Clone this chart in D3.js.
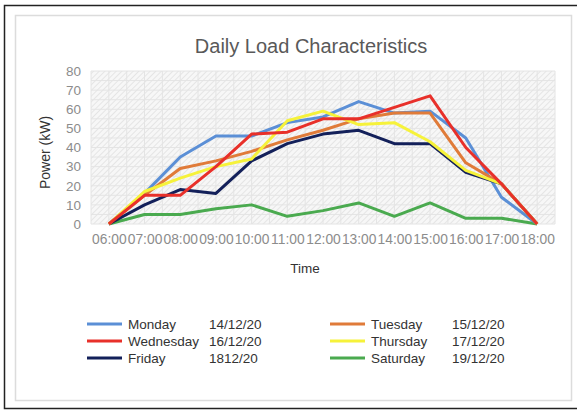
<!DOCTYPE html>
<html>
<head>
<meta charset="utf-8">
<script src="https://cdn.jsdelivr.net/npm/d3@7"></script>
<style>
  body { margin: 0; background: #fff; }
  svg { display: block; font-family: "Liberation Sans", Arial, sans-serif; }
</style>
</head>
<body>
<div id="chart"></div>
<script>
// time categories
const hours = ["06:00","07:00","08:00","09:00","10:00","11:00","12:00","13:00","14:00","15:00","16:00","17:00","18:00"];
const yTicks = [0, 10, 20, 30, 40, 50, 60, 70, 80];

// power per day (kW)
const monday    = [0, 16, 35, 46, 46, 53, 56, 64, 58, 59, 45, 14, 0];
const tuesday   = [0, 15, 29, 33, 38, 44, 49, 55, 58, 58, 32, 21, 0];
const wednesday = [0, 15, 15, 30, 47, 48, 55, 55, 61, 67, 40, 21, 0];
const thursday  = [0, 17, 24, 30, 34, 54, 59, 52, 53, 43, 28, 21, 0];
const friday    = [0, 10, 18, 16, 33, 42, 47, 49, 42, 42, 27, 21, 0];
const saturday  = [0, 5, 5, 8, 10, 4, 7, 11, 4, 11, 3, 3, 0];

const series = [
  {name: "Monday",    date: "14/12/20", color: "#5b8fd6", values: monday},
  {name: "Tuesday",   date: "15/12/20", color: "#e07b39", values: tuesday},
  {name: "Wednesday", date: "16/12/20", color: "#e8302a", values: wednesday},
  {name: "Thursday",  date: "17/12/20", color: "#f6f23a", values: thursday},
  {name: "Friday",    date: "1812/20",  color: "#13205a", values: friday},
  {name: "Saturday",  date: "19/12/20", color: "#4aaa4f", values: saturday}
];
// draw order (back to front)
const drawOrder = ["Saturday", "Monday", "Tuesday", "Friday", "Thursday", "Wednesday"];
// legend layout: left column then right column
const legendLeft = ["Monday", "Wednesday", "Friday"];
const legendRight = ["Tuesday", "Thursday", "Saturday"];

const W = 577, H = 412;
const plot = {left: 91, right: 555, top: 71, bottom: 224};

const svg = d3.select("#chart").append("svg")
  .attr("width", W)
  .attr("height", H);

// frames
svg.append("rect")
  .attr("x", 4.5).attr("y", 5.5)
  .attr("width", 590).attr("height", 403)
  .attr("fill", "none").attr("stroke", "#222").attr("stroke-width", 1.5);
svg.append("rect")
  .attr("x", 15.5).attr("y", 15.5)
  .attr("width", 556).attr("height", 385)
  .attr("fill", "#fff").attr("stroke", "#dcdcdc").attr("stroke-width", 1.5);

// hatch pattern for plot background
const pat = svg.append("defs").append("pattern")
  .attr("id", "hatch")
  .attr("patternUnits", "userSpaceOnUse")
  .attr("width", 4).attr("height", 4)
  .attr("patternTransform", "rotate(45)");
pat.append("rect").attr("width", 4).attr("height", 4).attr("fill", "#f7f7f7");
pat.append("line")
  .attr("x1", 0).attr("y1", 0).attr("x2", 0).attr("y2", 4)
  .attr("stroke", "#dedede").attr("stroke-width", 1.4);

// scales
const x = d3.scalePoint()
  .domain(hours)
  .range([plot.left, plot.right])
  .padding(0.5);
const y = d3.scaleLinear()
  .domain([0, 80])
  .range([plot.bottom, plot.top]);
const step = x.step();

svg.append("rect")
  .attr("x", plot.left).attr("y", plot.top)
  .attr("width", plot.right - plot.left)
  .attr("height", plot.bottom - plot.top)
  .attr("fill", "url(#hatch)");

// gridlines: vertical at every half step, horizontal every 5 kW
const grid = svg.append("g").attr("stroke", "#e4e4e4").attr("stroke-width", 1);
d3.range(0, hours.length * 2 + 1).forEach(i => {
  const gx = plot.left + i * step / 2;
  grid.append("line")
    .attr("x1", gx).attr("x2", gx)
    .attr("y1", plot.top).attr("y2", plot.bottom);
});
d3.range(0, 81, 5).forEach(v => {
  grid.append("line")
    .attr("x1", plot.left).attr("x2", plot.right)
    .attr("y1", y(v)).attr("y2", y(v));
});

// title
svg.append("text")
  .attr("x", 311).attr("y", 53)
  .attr("text-anchor", "middle")
  .attr("font-size", 20)
  .attr("fill", "#595959")
  .text("Daily Load Characteristics");

// y axis
const yAxis = svg.append("g")
  .attr("transform", `translate(${plot.left - 6},0)`)
  .call(d3.axisLeft(y).tickValues(yTicks).tickSize(0).tickPadding(4));
yAxis.select(".domain").remove();
yAxis.selectAll("text")
  .attr("font-size", 13.5)
  .attr("fill", "#8c8c8c")
  .attr("font-family", "Liberation Sans, Arial, sans-serif");

// x axis
const xAxis = svg.append("g")
  .attr("transform", `translate(0,${plot.bottom + 6})`)
  .call(d3.axisBottom(x).tickSize(0).tickPadding(4));
xAxis.select(".domain").remove();
xAxis.selectAll("text")
  .attr("font-size", 13.8)
  .attr("fill", "#8c8c8c")
  .attr("font-family", "Liberation Sans, Arial, sans-serif");

// axis titles
svg.append("text")
  .attr("transform", `translate(50,${(plot.top + plot.bottom) / 2 + 5}) rotate(-90)`)
  .attr("text-anchor", "middle")
  .attr("font-size", 14)
  .attr("fill", "#333")
  .text("Power (kW)");
svg.append("text")
  .attr("x", 305).attr("y", 273)
  .attr("text-anchor", "middle")
  .attr("font-size", 13.5)
  .attr("fill", "#333")
  .text("Time");

// lines
const line = d3.line()
  .x((d, i) => x(hours[i]))
  .y(d => y(d));
const byName = new Map(series.map(s => [s.name, s]));
svg.append("g").selectAll("path")
  .data(drawOrder.map(n => byName.get(n)))
  .join("path")
  .attr("d", d => line(d.values))
  .attr("fill", "none")
  .attr("stroke", d => d.color)
  .attr("stroke-width", 3)
  .attr("stroke-linejoin", "round");

// legend
function legendColumn(names, x0) {
  names.forEach((n, i) => {
    const s = byName.get(n);
    const ly = 324 + i * 17;
    svg.append("line")
      .attr("x1", x0).attr("x2", x0 + 35)
      .attr("y1", ly).attr("y2", ly)
      .attr("stroke", s.color).attr("stroke-width", 3);
    svg.append("text")
      .attr("x", x0 + 41).attr("y", ly + 5)
      .attr("font-size", 13.5)
      .attr("fill", "#333")
      .text(s.name);
    svg.append("text")
      .attr("x", x0 + 122).attr("y", ly + 5)
      .attr("font-size", 13.5)
      .attr("fill", "#333")
      .text(s.date);
  });
}
legendColumn(legendLeft, 87);
legendColumn(legendRight, 330);
</script>
</body>
</html>
